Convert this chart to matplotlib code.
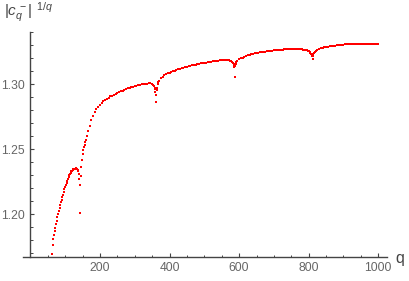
import numpy as np
import matplotlib
matplotlib.use('Agg')
import matplotlib.pyplot as plt
from matplotlib.ticker import MultipleLocator, FixedLocator

plt.rcParams['font.family'] = ['Liberation Sans', 'DejaVu Sans']
plt.rcParams['mathtext.fontset'] = 'custom'
plt.rcParams['mathtext.rm'] = 'Liberation Sans'
plt.rcParams['mathtext.it'] = 'Liberation Sans:italic'

# values (q, |c_q^-|^(1/q))
q_branch1 = [60, 62, 64, 66, 68, 70, 72, 74, 76, 78, 80, 82, 84, 86, 88, 90, 92, 94,
             96, 98, 100, 102, 104, 106, 108, 110, 112, 114, 116, 118, 120, 122,
             124, 126, 128, 130, 132, 134, 136, 138, 140, 141, 142, 143]
v_branch1 = [1.160, 1.169, 1.176, 1.181, 1.184, 1.187, 1.1895, 1.192, 1.195, 1.1975,
             1.200, 1.2025, 1.205, 1.207, 1.209, 1.211, 1.213, 1.215, 1.217, 1.219,
             1.221, 1.2225, 1.224, 1.2255, 1.227, 1.2285, 1.2298, 1.231, 1.232,
             1.2328, 1.2335, 1.234, 1.2345, 1.2348, 1.235, 1.2352, 1.2352, 1.235,
             1.2343, 1.2333, 1.2305, 1.227, 1.2224, 1.201]

q_branch2 = [144, 145, 146, 148, 150, 152, 154, 156, 158, 160, 163, 166, 170, 175,
             180, 185, 190, 195, 200, 205, 210, 215, 220, 225, 230, 235, 240, 245,
             250, 255, 260, 265, 270, 275, 280, 285, 290, 295, 300, 305, 310, 315,
             320, 325, 330, 335, 340, 345, 350, 353, 355, 357, 358, 359, 360, 361,
             362, 363, 364]
v_branch2 = [1.2222, 1.2290, 1.2360, 1.2420, 1.2465, 1.2493, 1.2513, 1.2532, 1.2552,
             1.2572, 1.2605, 1.2638, 1.2680, 1.2722, 1.2757, 1.2787, 1.2810, 1.2828,
             1.2843, 1.2856, 1.2868, 1.2879, 1.2889, 1.2898, 1.2906, 1.2913, 1.2920,
             1.2927, 1.2934, 1.2940, 1.2946, 1.2952, 1.2958, 1.2963, 1.2968, 1.2973,
             1.2978, 1.2982, 1.2986, 1.2990, 1.2993, 1.2996, 1.2999, 1.3002, 1.3004,
             1.3006, 1.3007, 1.3007, 1.3003, 1.2996, 1.2988, 1.2972, 1.2960, 1.2943,
             1.2920, 1.2866, 1.2918, 1.2955, 1.2975]

q_branch3 = [366, 368, 370, 375, 380, 385, 390, 395, 400, 405, 410, 415, 420, 425,
             430, 435, 440, 445, 450, 455, 460, 465, 470, 475, 480, 485, 490, 495,
             500, 505, 510, 515, 520, 525, 530, 535, 540, 545, 550, 555, 560, 565,
             570, 575, 578, 580, 582, 584, 585, 586, 587, 588, 590, 592]
v_branch3 = [1.3003, 1.3017, 1.3028, 1.3045, 1.3060, 1.3069, 1.3077, 1.3084, 1.3090,
             1.3096, 1.3101, 1.3106, 1.3110, 1.3115, 1.3119, 1.3123, 1.3127, 1.3131,
             1.3135, 1.3139, 1.3142, 1.3146, 1.3149, 1.3152, 1.3155, 1.3158, 1.3161,
             1.3164, 1.3166, 1.3168, 1.3170, 1.3172, 1.3174, 1.3176, 1.3178, 1.3180,
             1.3182, 1.3184, 1.3186, 1.3187, 1.3188, 1.3188, 1.3186, 1.3182, 1.3177,
             1.3172, 1.3165, 1.3155, 1.3145, 1.3135, 1.3054, 1.3138, 1.3158, 1.3170]

q_branch4 = [595, 600, 605, 610, 615, 620, 625, 630, 635, 640, 645, 650, 655, 660,
             665, 670, 675, 680, 685, 690, 695, 700, 705, 710, 715, 720, 725, 730,
             735, 740, 745, 750, 755, 760, 765, 770, 775, 780, 785, 790, 795, 798,
             801, 803, 805, 807, 809, 810, 811, 812, 813, 815, 817]
v_branch4 = [1.3180, 1.3192, 1.3199, 1.3205, 1.3212, 1.3218, 1.3223, 1.3228, 1.3232,
             1.3235, 1.3238, 1.3241, 1.3244, 1.3246, 1.3248, 1.3250, 1.3252, 1.3254,
             1.3256, 1.3258, 1.3260, 1.3262, 1.3263, 1.3264, 1.3266, 1.3267, 1.3268,
             1.3269, 1.3270, 1.3271, 1.3272, 1.3272, 1.3272, 1.3272, 1.3272, 1.3272,
             1.3271, 1.3270, 1.3268, 1.3265, 1.3261, 1.3258, 1.3253, 1.3248, 1.3242,
             1.3236, 1.3228, 1.3222, 1.3196, 1.3222, 1.3232, 1.3245, 1.3252]

q_branch5 = [820, 825, 830, 835, 840, 845, 850, 855, 860, 865, 870, 875, 880, 885,
             890, 895, 900, 905, 910, 915, 920, 925, 930, 935, 940, 945, 950, 955,
             960, 965, 970, 975, 980, 985, 990, 995, 1000]
v_branch5 = [1.3258, 1.3266, 1.3272, 1.3277, 1.3282, 1.3285, 1.3288, 1.3291, 1.3293,
             1.3295, 1.3297, 1.3299, 1.3301, 1.3302, 1.3304, 1.3305, 1.3306, 1.3307,
             1.3308, 1.3308, 1.3308, 1.3308, 1.3309, 1.3309, 1.3309, 1.3309, 1.3309,
             1.3309, 1.3309, 1.3309, 1.3309, 1.3309, 1.3309, 1.3309, 1.3309, 1.3309,
             1.3309]

q = q_branch1 + q_branch2 + q_branch3 + q_branch4 + q_branch5
v = v_branch1 + v_branch2 + v_branch3 + v_branch4 + v_branch5

x_major = [200, 400, 600, 800, 1000]
y_major = [1.20, 1.25, 1.30]

fig = plt.figure(figsize=(4.09, 2.81), dpi=100)
ax = fig.add_axes([0.0555, 0.0865, 0.8915, 0.7986])

ax.plot(q, v, linestyle='none', marker='s', markersize=2.1,
        markeredgewidth=0, color='#ff0000')

ax.set_xlim(-22, 1026)
ax.set_ylim(1.1671, 1.3401)

axis_col = '#444444'
for s in ['top', 'right']:
    ax.spines[s].set_visible(False)
ax.spines['left'].set_position(('data', 0))
for s in ['left', 'bottom']:
    ax.spines[s].set_color(axis_col)
    ax.spines[s].set_linewidth(1.0)

ax.xaxis.set_major_locator(FixedLocator(x_major))
ax.xaxis.set_minor_locator(FixedLocator([x for x in range(50, 1001, 50) if x not in x_major]))
ax.yaxis.set_major_locator(FixedLocator(y_major))
ax.yaxis.set_minor_locator(FixedLocator([round(1.17 + 0.01 * i, 2) for i in range(18)]))
ax.set_yticklabels(['1.20', '1.25', '1.30'])
ax.set_xticklabels([str(x) for x in x_major])

ax.tick_params(which='major', direction='in', length=3.2, width=0.8, color=axis_col,
               labelsize=8.7, labelcolor='#666666')
ax.tick_params(which='minor', direction='in', length=1.8, width=0.7, color=axis_col)
ax.tick_params(axis='y', which='major', pad=4)
ax.tick_params(axis='x', which='major', pad=4)

fig.text(400 / 409, 1 - 258 / 281, 'q', ha='center', va='center',
         fontsize=11.5, color='#444444')
fig.text(4 / 409, 1.0, r'$|c_q^{\,-}|^{\;\;1/q}$', ha='left', va='top',
         fontsize=11, color='#444444')

fig.savefig('out.png', dpi=100)
